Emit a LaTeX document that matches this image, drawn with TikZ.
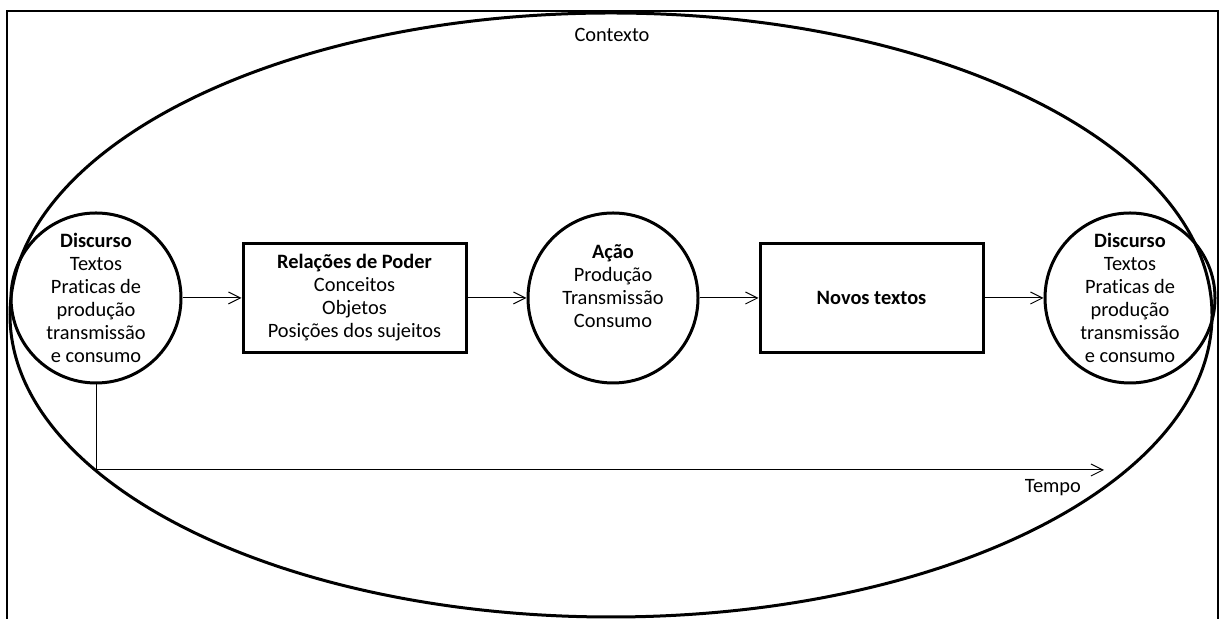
\documentclass[tikz,border=0pt]{standalone}
\usepackage{fontspec}
\setmainfont{Carlito}[Ligatures=NoCommon]
\usetikzlibrary{arrows.meta,positioning}
\tikzset{
  disc/.style={circle,draw=black,line width=1.5pt,minimum size=85pt,inner sep=0pt,align=center},
  rel/.style={draw=black,line width=1.5pt,minimum width=111.5pt,minimum height=54.5pt,inner sep=0pt,align=center},
  flow/.style={-{Straight Barb[length=6pt,width=6pt]},line width=0.5pt},
  frame/.style={line width=1pt},
  context/.style={line width=1.5pt},
}
\begin{document}
\begin{tikzpicture}[x=1pt,y=1pt,node distance=29.5pt, every node/.style={font=\fontsize{10.2}{11.5}\selectfont}]
\useasboundingbox (0,0) rectangle (610,309.5);
\draw[frame] (3.5,-5) -- (3.5,304) -- (608.8,304) -- (608.8,-5);
\draw[context] (305.5,152) ellipse [x radius=300.5, y radius=151];
\node (contexto) at (306,292) {Contexto};
\node[disc] (disc1) at (48,160.5) {\textbf{Discurso}\\Textos\\Praticas de\\produção\\transmissão\\e consumo};
\node[rel, right=of disc1] (poder) {\textbf{Relações de Poder}\\Conceitos\\Objetos\\Posições dos sujeitos};
\node[disc, right=of poder] (acao) {\textbf{Ação}\\Produção\\Transmissão\\Consumo\\\mbox{}};
\node[rel, right=of acao] (novos) {\textbf{Novos textos}};
\node[disc, right=of novos] (disc2) {\textbf{Discurso}\\Textos\\Praticas de\\produção\\transmissão\\e consumo};
\draw[flow] (disc1) -- (poder);
\draw[flow] (poder) -- (acao);
\draw[flow] (acao) -- (novos);
\draw[flow] (novos) -- (disc2);
% eixo do tempo
\coordinate (tfim) at (552,74.5);
\draw[flow] (disc1.south) |- (tfim);
\node[below left=1pt and 8pt of tfim] (tempo) {Tempo};
\end{tikzpicture}
\end{document}
